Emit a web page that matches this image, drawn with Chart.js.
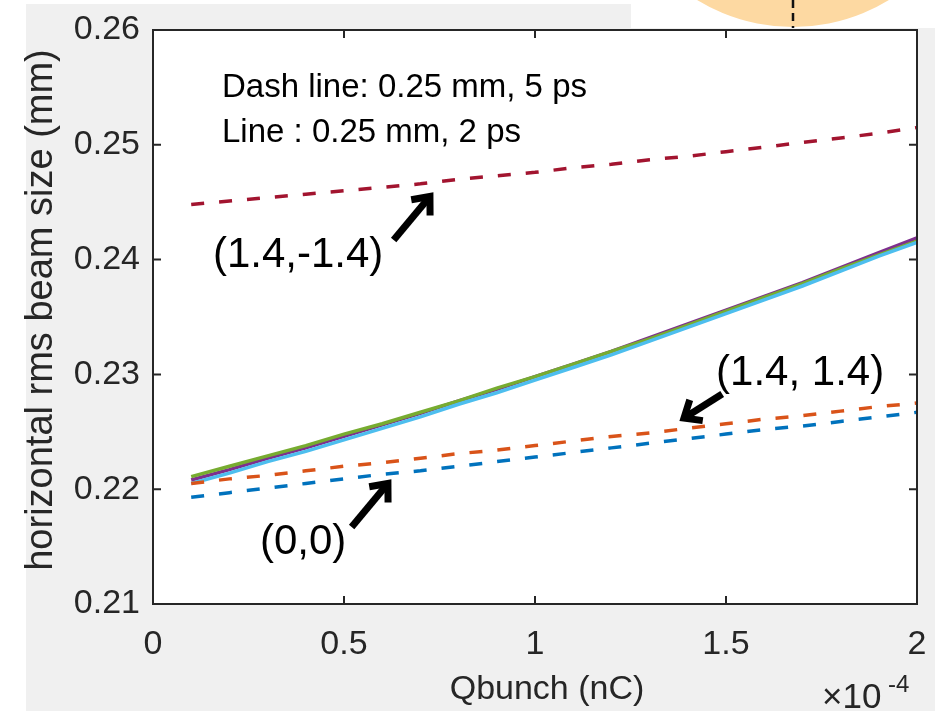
<!DOCTYPE html>
<html>
<head>
<meta charset="utf-8">
<script src="https://cdn.jsdelivr.net/npm/chart.js@4"></script>
<style>
  html, body { margin: 0; padding: 0; background: #fff; }
  canvas { display: block; }
</style>
</head>
<body>
<canvas id="beamChart" width="935" height="711"></canvas>
<script>
// bunch charge, in units of 1e-4 nC
const qBunch = [0.1, 0.2, 0.3, 0.4, 0.5, 0.6, 0.7, 0.8, 0.9, 1.0,
                1.1, 1.2, 1.3, 1.4, 1.5, 1.6, 1.7, 1.8, 1.9, 2.0];

// dashed: 0.25 mm, 5 ps
const dash00 = [0.2193, 0.2197, 0.2201, 0.2205, 0.2209, 0.2213, 0.2216, 0.2220, 0.2224, 0.2228,
                0.2232, 0.2236, 0.2240, 0.2244, 0.2248, 0.2252, 0.2255, 0.2259, 0.2263, 0.2267];
const dashPP = [0.2205, 0.2209, 0.2212, 0.2216, 0.2220, 0.2223, 0.2227, 0.2231, 0.2234, 0.2238,
                0.2242, 0.2246, 0.2249, 0.2253, 0.2257, 0.2261, 0.2264, 0.2268, 0.2272, 0.2275];
const dashPM = [0.2448, 0.2451, 0.2454, 0.2457, 0.2460, 0.2463, 0.2466, 0.2470, 0.2473, 0.2476,
                0.2480, 0.2483, 0.2487, 0.2490, 0.2494, 0.2498, 0.2502, 0.2506, 0.2510, 0.2515];

// solid: 0.25 mm, 2 ps
const line00 = [0.2205, 0.2214, 0.2224, 0.2233, 0.2243, 0.2253, 0.2263, 0.2274, 0.2284, 0.2295,
                0.2306, 0.2317, 0.2329, 0.2341, 0.2353, 0.2365, 0.2377, 0.2390, 0.2403, 0.2415];
const linePP = [0.2211, 0.2220, 0.2229, 0.2238, 0.2248, 0.2257, 0.2267, 0.2277, 0.2288, 0.2298,
                0.2309, 0.2320, 0.2331, 0.2343, 0.2355, 0.2367, 0.2379, 0.2392, 0.2404, 0.2416];
const linePM = [0.2208, 0.2217, 0.2227, 0.2236, 0.2246, 0.2256, 0.2266, 0.2277, 0.2287, 0.2298,
                0.2309, 0.2320, 0.2332, 0.2344, 0.2356, 0.2368, 0.2380, 0.2393, 0.2406, 0.2419];

const xTicks = [0, 0.5, 1, 1.5, 2];
const yTicks = [0.21, 0.22, 0.23, 0.24, 0.25, 0.26];

const FONT = '"Liberation Sans", Arial, Helvetica, sans-serif';
const INK = '#262626';

function pts(ys) {
  return qBunch.map((q, i) => ({ x: q, y: ys[i] }));
}

function series(ys, color, dashed) {
  return {
    data: pts(ys),
    borderColor: color,
    borderWidth: 3.5,
    borderDash: dashed ? [13, 15] : [],
    pointRadius: 0,
    tension: 0,
    fill: false
  };
}

function arrow(c, x1, y1, x2, y2) {
  const ang = Math.atan2(y2 - y1, x2 - x1);
  const w = 19;
  c.strokeStyle = '#000';
  c.lineWidth = 7;
  c.lineCap = 'butt';
  c.lineJoin = 'miter';
  c.beginPath();
  c.moveTo(x1, y1);
  c.lineTo(x2 - 3 * Math.cos(ang), y2 - 3 * Math.sin(ang));
  c.stroke();
  c.beginPath();
  c.moveTo(x2 - w * Math.cos(ang - 0.7), y2 - w * Math.sin(ang - 0.7));
  c.lineTo(x2, y2);
  c.lineTo(x2 - w * Math.cos(ang + 0.7), y2 - w * Math.sin(ang + 0.7));
  c.stroke();
}

// annotation arrows and labels, in data units
const arrows = [
  { from: [0.63, 0.2417], to: [0.725, 0.2455] },
  { from: [1.49, 0.2283], to: [1.39, 0.2262] },
  { from: [0.52, 0.2167], to: [0.615, 0.2205] }
];
const notes = [
  { text: '(1.4,-1.4)', at: [0.38, 0.2404] },
  { text: '(1.4, 1.4)', at: [1.694, 0.2301] },
  { text: '(0,0)', at: [0.393, 0.2154] }
];

const frame = {
  id: 'frame',
  beforeDraw(chart) {
    const c = chart.ctx, a = chart.chartArea;
    c.save();
    c.fillStyle = '#fff';
    c.fillRect(0, 0, chart.width, chart.height);
    c.fillStyle = '#f0f0f0';
    c.fillRect(26, 4, chart.width - 26, chart.height - 4);
    c.fillStyle = '#fff';
    c.fillRect(631, 0, chart.width - 631, 28);
    // beam spot sketch peeking in at the top
    c.beginPath();
    c.arc(793, -157, 184, 0, Math.PI * 2);
    c.fillStyle = '#fdd9a2';
    c.fill();
    c.setLineDash([8, 5]);
    c.strokeStyle = '#111';
    c.lineWidth = 2.5;
    c.beginPath();
    c.moveTo(793, 0);
    c.lineTo(793, 28);
    c.stroke();
    c.setLineDash([]);
    c.fillStyle = '#fff';
    c.fillRect(a.left, a.top, a.right - a.left, a.bottom - a.top);
    c.restore();
  },
  afterDatasetsDraw(chart) {
    const c = chart.ctx, a = chart.chartArea;
    const xs = chart.scales.x, ys = chart.scales.y;
    c.save();
    // axes box with inward ticks on all sides
    c.strokeStyle = INK;
    c.lineWidth = 2;
    c.strokeRect(a.left, a.top, a.right - a.left, a.bottom - a.top);
    c.beginPath();
    xTicks.forEach(v => {
      const px = xs.getPixelForValue(v);
      c.moveTo(px, a.bottom); c.lineTo(px, a.bottom - 8);
      c.moveTo(px, a.top); c.lineTo(px, a.top + 8);
    });
    yTicks.forEach(v => {
      const py = ys.getPixelForValue(v);
      c.moveTo(a.left, py); c.lineTo(a.left + 8, py);
      c.moveTo(a.right, py); c.lineTo(a.right - 8, py);
    });
    c.stroke();

    // axis titles
    c.fillStyle = INK;
    c.textAlign = 'center';
    c.textBaseline = 'middle';
    c.font = '34px ' + FONT;
    c.fillText('Qbunch (nC)', 547, 690);
    c.save();
    c.translate(42, 310);
    c.rotate(-Math.PI / 2);
    c.font = '38px ' + FONT;
    c.fillText('horizontal rms beam size (mm)', 0, 0);
    c.restore();
    // exponent
    c.textAlign = 'left';
    c.textBaseline = 'alphabetic';
    c.font = '35px ' + FONT;
    c.fillText('\u00d710', 822, 708);
    c.font = '24px ' + FONT;
    c.fillText('-4', 888, 692);

    // text box
    c.fillStyle = '#000';
    c.font = '33px ' + FONT;
    c.fillText('Dash line: 0.25 mm, 5 ps', a.left + 69, 97);
    c.fillText('Line : 0.25 mm, 2 ps', a.left + 69, 142);

    // arrows and their labels
    arrows.forEach(ar => {
      arrow(c, xs.getPixelForValue(ar.from[0]), ys.getPixelForValue(ar.from[1]),
               xs.getPixelForValue(ar.to[0]), ys.getPixelForValue(ar.to[1]));
    });
    c.textAlign = 'center';
    c.textBaseline = 'middle';
    c.font = '42px ' + FONT;
    notes.forEach(n => {
      c.fillText(n.text, xs.getPixelForValue(n.at[0]), ys.getPixelForValue(n.at[1]));
    });
    c.restore();
  }
};

const ctx = document.getElementById('beamChart').getContext('2d');
new Chart(ctx, {
  type: 'line',
  data: {
    datasets: [
      series(dash00, '#0072bd', true),
      series(dashPP, '#d95319', true),
      series(dashPM, '#a2142f', true),
      series(line00, '#4dbeee', false),
      series(linePP, '#77ac30', false),
      series(linePM, '#7e2f8e', false)
    ]
  },
  options: {
    responsive: false,
    animation: false,
    layout: { padding: { left: 0, right: 18, top: 30, bottom: 0 } },
    plugins: { legend: { display: false }, tooltip: { enabled: false } },
    scales: {
      x: {
        type: 'linear',
        min: 0,
        max: 2,
        afterFit(s) { s.height = 107; s.paddingLeft = 0; s.paddingRight = 0; },
        afterBuildTicks(s) { s.ticks = xTicks.map(v => ({ value: v })); },
        grid: { display: false, drawTicks: false },
        border: { display: false },
        ticks: {
          padding: 20,
          color: INK,
          font: { family: FONT, size: 34 },
          maxRotation: 0,
          callback: v => String(v)
        }
      },
      y: {
        type: 'linear',
        min: 0.21,
        max: 0.26,
        afterFit(s) { s.width = 153; s.paddingTop = 0; s.paddingBottom = 0; },
        afterBuildTicks(s) { s.ticks = yTicks.map(v => ({ value: v })); },
        grid: { display: false, drawTicks: false },
        border: { display: false },
        ticks: {
          padding: 13,
          color: INK,
          font: { family: FONT, size: 34 },
          callback: v => v.toFixed(2)
        }
      }
    }
  },
  plugins: [frame]
});
</script>
</body>
</html>
